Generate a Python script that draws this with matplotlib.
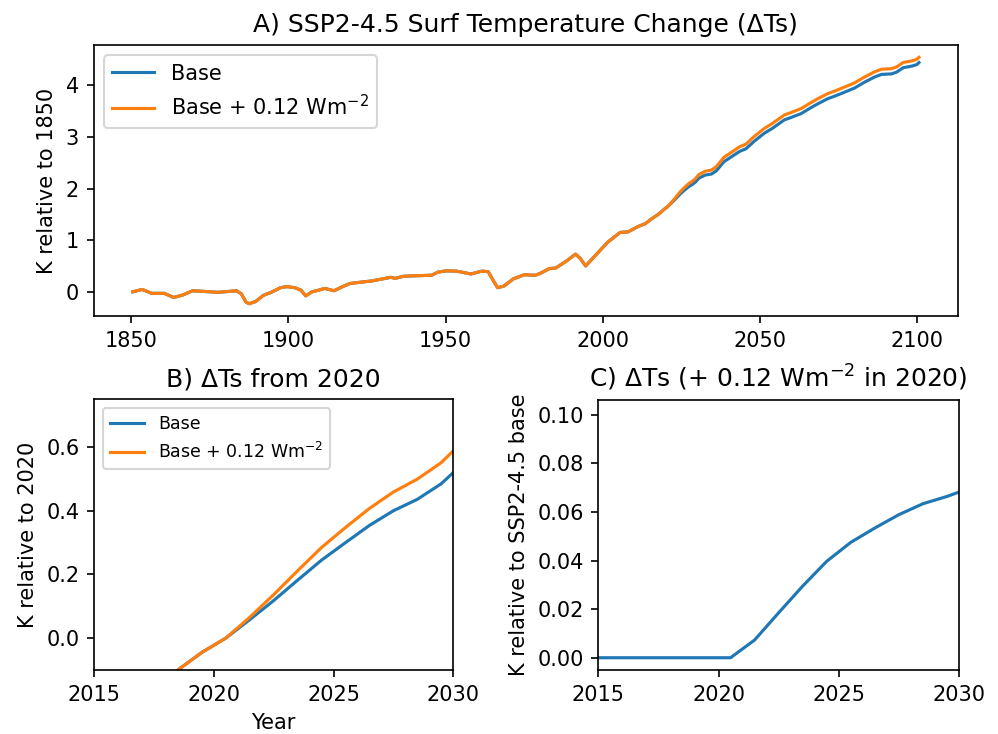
import numpy as np
import matplotlib
matplotlib.use("Agg")
import matplotlib.pyplot as plt

# historical part (both runs identical here)
years_hist = [1850.5, 1853.5, 1856.5, 1860.5, 1863.5, 1866.5, 1869.5, 1872.5, 1877.5,
              1883.5, 1885.0, 1886.5, 1887.5, 1889.5, 1892.0, 1894.5, 1897.5, 1899.5,
              1902.0, 1904.0, 1905.5, 1907.5, 1909.5, 1911.5, 1914.5, 1916.5, 1919.5,
              1923.5, 1926.5, 1929.5, 1932.5, 1934.0, 1936.5, 1940.0, 1945.5, 1947.5,
              1950.0, 1953.5, 1958.0, 1961.5, 1963.5, 1965.0, 1966.5, 1968.5, 1971.5,
              1975.0, 1978.5, 1980.0, 1983.0, 1985.0, 1988.5, 1991.3, 1992.8, 1994.5,
              1997.7, 2001.5, 2005.5, 2008.0, 2011.0, 2013.5]
base_hist = [0.0, 0.045, -0.03, -0.03, -0.11, -0.06, 0.02, 0.01, -0.01,
             0.02, -0.04, -0.2, -0.23, -0.19, -0.07, -0.01, 0.08, 0.1,
             0.08, 0.03, -0.08, 0.0, 0.03, 0.065, 0.02, 0.08, 0.16,
             0.19, 0.21, 0.245, 0.28, 0.26, 0.30, 0.31, 0.32, 0.38,
             0.405, 0.40, 0.345, 0.40, 0.39, 0.23, 0.08, 0.11, 0.25,
             0.33, 0.32, 0.355, 0.45, 0.46, 0.60, 0.73, 0.645, 0.50,
             0.71, 0.96, 1.15, 1.16, 1.26, 1.32]

# scenario part: base run and extra warming from +0.12 Wm-2 in 2020
years_scen = [2015.5, 2016.5, 2017.5, 2018.5, 2019.5, 2020.5, 2021.5, 2022.5, 2023.5,
              2024.5, 2025.5, 2026.5, 2027.5, 2028.5, 2029.5, 2030.5, 2032.5, 2034.5,
              2036.0, 2038.5, 2041.0, 2043.5, 2045.5, 2048.0, 2051.3, 2054.0, 2057.7,
              2060.0, 2063.0, 2065.7, 2068.3, 2071.5, 2074.2, 2077.4, 2080.0, 2083.2,
              2086.4, 2088.6, 2091.8, 2093.4, 2095.5, 2098.2, 2099.8, 2100.5]
base_scen = [1.415, 1.455, 1.495, 1.545, 1.60, 1.645, 1.703, 1.763, 1.827,
             1.89, 1.945, 1.999, 2.045, 2.081, 2.13, 2.20, 2.26, 2.28,
             2.34, 2.52, 2.62, 2.72, 2.77, 2.91, 3.07, 3.17, 3.33,
             3.38, 3.45, 3.55, 3.64, 3.74, 3.80, 3.88, 3.945, 4.06,
             4.16, 4.21, 4.22, 4.255, 4.34, 4.37, 4.40, 4.44]
extra_scen = [0.0, 0.0, 0.0, 0.0, 0.0, 0.0, 0.0073, 0.0185, 0.0295,
              0.0397, 0.0475, 0.0534, 0.0589, 0.0634, 0.0664, 0.070, 0.074, 0.078,
              0.081, 0.084, 0.087, 0.089, 0.090, 0.092, 0.093, 0.094, 0.095,
              0.096, 0.097, 0.0975, 0.098, 0.0985, 0.099, 0.0995, 0.100, 0.100,
              0.1005, 0.1005, 0.101, 0.101, 0.101, 0.101, 0.101, 0.101]

labels = ["Base", "Base + 0.12 Wm$^{-2}$"]

years_all = np.array(years_hist + years_scen)
base_all = np.array(base_hist + base_scen)
pert_all = base_all + np.concatenate([np.zeros(len(base_hist)), extra_scen])
ref = base_all[years_all == 2020.5][0]

fig = plt.figure(figsize=(998 / 150, 734 / 150), dpi=150)

# A) full period
ax1 = fig.add_axes([0.0937, 0.5695, 0.8665, 0.3692])
ax1.plot(years_all, base_all, label=labels[0])
ax1.plot(years_all, pert_all, label=labels[1])
ax1.set_title("A) SSP2-4.5 Surf Temperature Change (ΔTs)")
ax1.set_ylabel("K relative to 1850")
ax1.legend(loc="upper left")

# B) relative to 2020
ax2 = fig.add_axes([0.0942, 0.0872, 0.3600, 0.3688])
ax2.plot(years_all, base_all - ref, label=labels[0])
ax2.plot(years_all, pert_all - ref, label=labels[1])
ax2.set_xlim(2015, 2030)
ax2.set_ylim(-0.1, 0.75)
ax2.set_title("B) ΔTs from 2020")
ax2.set_ylabel("K relative to 2020")
ax2.set_xlabel("Year")
ax2.legend(loc="upper left", fontsize="small")

# C) difference between runs
ax3 = fig.add_axes([0.5995, 0.0872, 0.3614, 0.3678])
ax3.plot(years_all, pert_all - base_all)
ax3.set_xlim(2015, 2030)
ax3.set_ylim(-0.00505, 0.1061)
ax3.set_title("C) ΔTs (+ 0.12 Wm$^{-2}$ in 2020)")
ax3.set_ylabel("K relative to SSP2-4.5 base")

fig.savefig("out.png", dpi=150)
